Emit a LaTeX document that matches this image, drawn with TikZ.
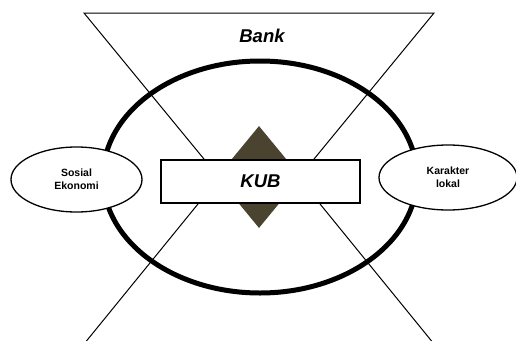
\documentclass[tikz,border=0pt]{standalone}
\usepackage{fontspec}
\setmainfont{Liberation Sans}
\usetikzlibrary{shapes.geometric}
\definecolor{olive}{RGB}{74,67,48}
\begin{document}
\begin{tikzpicture}[x=1pt,y=-1pt,
  thinline/.style={draw=black,line width=1pt},
  bigoval/.style={draw=black,line width=5pt},
  sideoval/.style={ellipse,draw=black,line width=1.3pt,fill=white,inner sep=0pt,align=center,font=\bfseries\fontsize{10.5}{13}\selectfont},
  kubbox/.style={rectangle,draw=black,line width=1.3pt,fill=white,inner sep=0pt,font=\bfseries\itshape\fontsize{18.5}{20}\selectfont},
  gem/.style={diamond,fill=olive,inner sep=0pt,minimum width=84pt,minimum height=102pt}]
\useasboundingbox (0,0) rectangle (516,340);
\coordinate (tl) at (84,13);
\coordinate (tr) at (434,13);
\coordinate (apexdown) at (259,226);
\coordinate (apexup) at (259,129);
\coordinate (bl) at (84,344);
\coordinate (br) at (434,344);
\begin{scope}
\clip (0,0) rectangle (516,340);
\draw[thinline] (tl) -- (tr) -- (apexdown) -- cycle;
\draw[thinline] (bl) -- (apexup) -- (br);
\end{scope}
\node[font=\bfseries\itshape\fontsize{18.5}{20}\selectfont] (bank) at (262,36) {Bank};
\draw[bigoval] (260,177) ellipse [x radius=157, y radius=116];
\node[gem] (gem) at (259,177) {};
\node[kubbox,minimum width=199pt,minimum height=43pt] (kub) at (260.5,181.5) {KUB};
\node[sideoval,minimum width=131pt,minimum height=65pt] (sosial) at (76.5,179.5) {Sosial\\Ekonomi};
\node[sideoval,minimum width=138pt,minimum height=65pt] (karakter) at (448,177.5) {Karakter\\lokal};
\end{tikzpicture}
\end{document}
